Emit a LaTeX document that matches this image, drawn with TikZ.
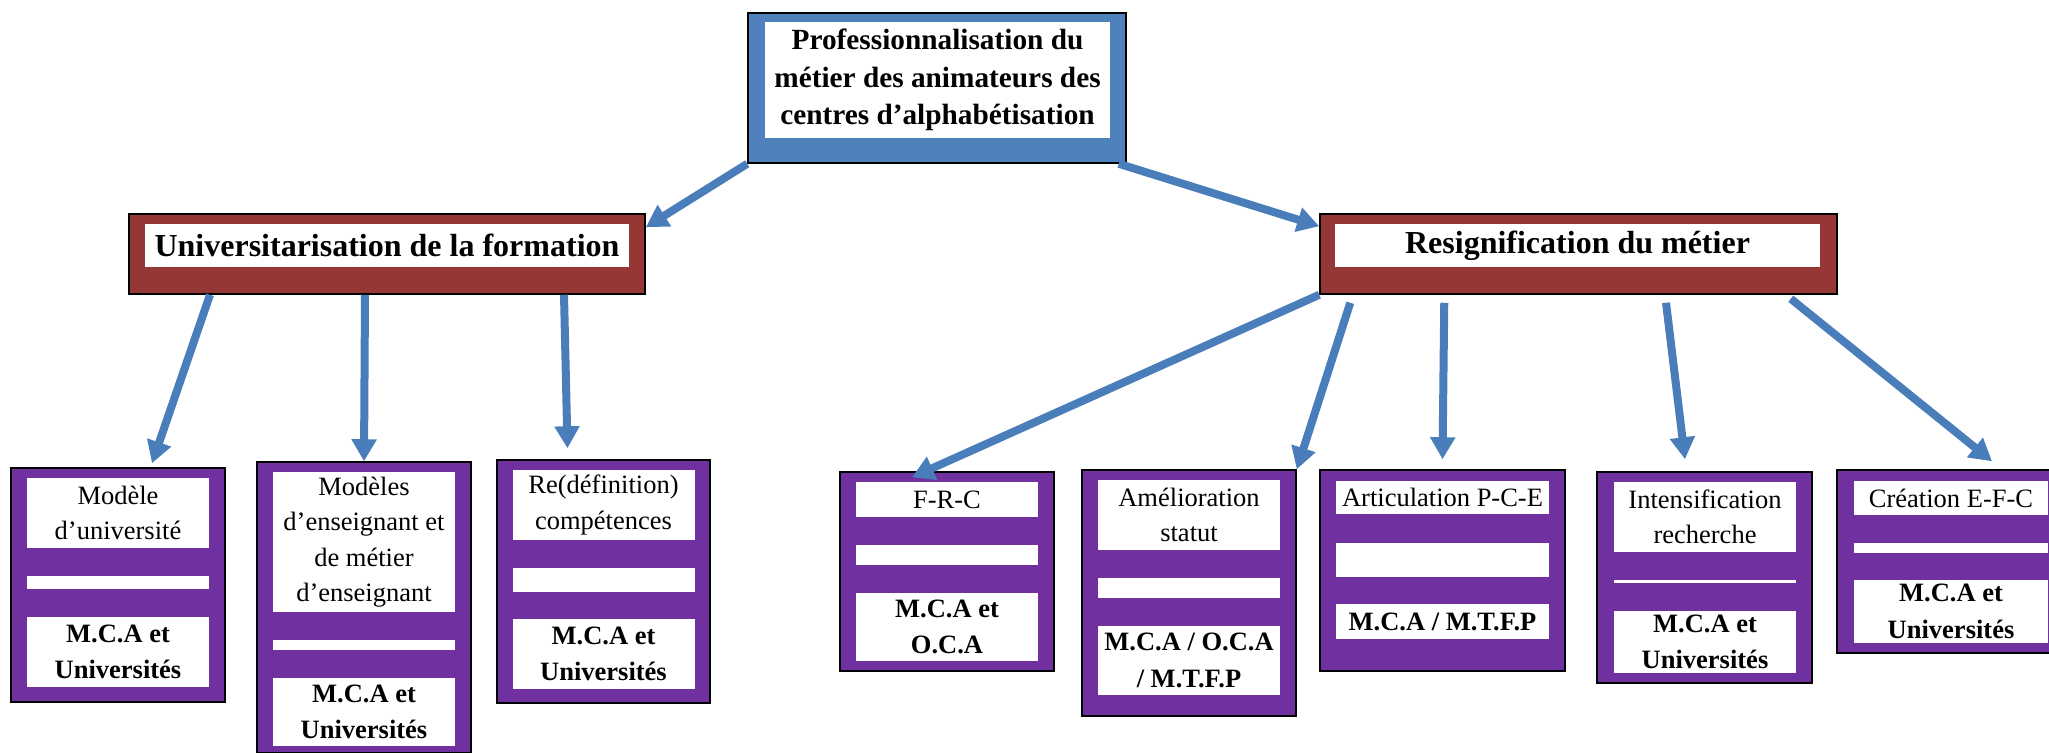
\documentclass[tikz,border=0pt]{standalone}
\usepackage{fontspec}
\setmainfont{Liberation Serif}
\usepackage{tikz}
\usetikzlibrary{arrows.meta}

\definecolor{bleuTete}{RGB}{79,129,189}
\definecolor{bleuFleche}{RGB}{74,126,187}
\definecolor{brique}{RGB}{149,55,53}
\definecolor{mauve}{RGB}{112,48,160}

\begin{document}
\begin{tikzpicture}[x=0.5pt,y=-0.5pt,
    boite/.style={draw=black,line width=0.75pt,inner sep=0pt},
    blanc/.style={fill=white,inner sep=0pt,align=center},
    niv1/.style={font=\bfseries\fontsize{14.65}{18.75}\selectfont},
    niv2/.style={font=\bfseries\fontsize{16}{19}\selectfont},
    txt/.style={font=\fontsize{13.25}{17.75}\selectfont},
    txtg/.style={font=\bfseries\fontsize{13.25}{18.25}\selectfont},
    fleche/.style={draw=bleuFleche,line width=4pt,-{Triangle[width=12pt,length=11pt]}}]
    \useasboundingbox (0,0) rectangle (2049,752);

    \node[boite,fill=bleuTete,minimum width=189pt,minimum height=75pt] (prof) at (937,88) {};
    \node[blanc,niv1,minimum width=172.5pt,minimum height=58pt] (profT) at (937.5,80)
    {Professionnalisation du\\métier des animateurs des\\centres d’alphabétisation};

    \node[boite,fill=brique,minimum width=258pt,minimum height=40pt] (univ) at (387,254) {};
    \node[blanc,niv2,minimum width=242pt,minimum height=21.5pt] (univT) at (387,245.5)
    {Universitarisation de la formation};
    \node[boite,fill=brique,minimum width=258.5pt,minimum height=40pt] (resign) at (1578.5,254) {};
    \node[blanc,niv2,minimum width=242.5pt,minimum height=21.5pt] (resignT) at (1577.5,245.5)
    {Resignification du métier};

    \node[boite,fill=mauve,minimum width=107pt,minimum height=117pt] (modele) at (118,585) {};
    \node[blanc,txt,minimum width=91pt,minimum height=35pt] (modele1) at (118,513) {Modèle\\d’université};
    \node[blanc,minimum width=91pt,minimum height=6.5pt] (modele2) at (118,582.5) {};
    \node[blanc,txtg,minimum width=91pt,minimum height=35pt] (modele3) at (118,652) {M.C.A et\\Universités};

    \node[boite,fill=mauve,minimum width=107pt,minimum height=145.5pt] (modeles) at (364,607.5) {};
    \node[blanc,txt,minimum width=91pt,minimum height=70pt] (modeles1) at (364,542)
    {Modèles\\d’enseignant et\\de métier\\d’enseignant};
    \node[blanc,minimum width=91pt,minimum height=5pt] (modeles2) at (364,645) {};
    \node[blanc,txtg,minimum width=91pt,minimum height=34pt] (modeles3) at (364,712) {M.C.A et\\Universités};

    \node[boite,fill=mauve,minimum width=106.5pt,minimum height=121.5pt] (redef) at (603.5,581.5) {};
    \node[blanc,txt,minimum width=91pt,minimum height=35pt] (redef1) at (603.5,505) {Re(définition)\\compétences};
    \node[blanc,minimum width=91pt,minimum height=12pt] (redef2) at (603.5,580) {};
    \node[blanc,txtg,minimum width=91pt,minimum height=35pt] (redef3) at (603.5,654) {M.C.A et\\Universités};

    \node[boite,fill=mauve,minimum width=107pt,minimum height=99.5pt] (frc) at (947,571.5) {};
    \node[blanc,txt,minimum width=91pt,minimum height=17.5pt] (frc1) at (947,499.5) {F-R-C};
    \node[blanc,minimum width=91pt,minimum height=10pt] (frc2) at (947,555) {};
    \node[blanc,txtg,minimum width=91pt,minimum height=34pt] (frc3) at (947,627) {M.C.A et\\O.C.A};

    \node[boite,fill=mauve,minimum width=107pt,minimum height=123pt] (amelio) at (1189,593) {};
    \node[blanc,txt,minimum width=91pt,minimum height=35pt] (amelio1) at (1189,515) {Amélioration\\statut};
    \node[blanc,minimum width=91pt,minimum height=10pt] (amelio2) at (1189,588) {};
    \node[blanc,txtg,minimum width=91pt,minimum height=34.5pt] (amelio3) at (1189,660.5) {M.C.A / O.C.A\\/ M.T.F.P};

    \node[boite,fill=mauve,minimum width=122.5pt,minimum height=100.5pt] (artic) at (1442.5,570.5) {};
    \node[blanc,txt,minimum width=106.5pt,minimum height=16.5pt] (artic1) at (1442.5,497.5) {Articulation P-C-E};
    \node[blanc,minimum width=106.5pt,minimum height=17pt] (artic2) at (1442.5,560) {};
    \node[blanc,txtg,minimum width=106.5pt,minimum height=17.5pt] (artic3) at (1442.5,621.5) {M.C.A / M.T.F.P};

    \node[boite,fill=mauve,minimum width=107.5pt,minimum height=105.5pt] (intens) at (1704.5,577.5) {};
    \node[blanc,txt,minimum width=91pt,minimum height=35pt] (intens1) at (1705,517) {Intensification\\recherche};
    \node[blanc,minimum width=91pt,minimum height=1.5pt] (intens2) at (1705,581.5) {};
    \node[blanc,txtg,minimum width=91pt,minimum height=31pt] (intens3) at (1705,642) {M.C.A et\\Universités};

    \node[boite,fill=mauve,minimum width=114pt,minimum height=91.5pt] (creation) at (1951,561.5) {};
    \node[blanc,txt,minimum width=97pt,minimum height=17pt] (creation1) at (1951,498) {Création E-F-C};
    \node[blanc,minimum width=97pt,minimum height=5pt] (creation2) at (1951,548) {};
    \node[blanc,txtg,minimum width=97pt,minimum height=31.5pt] (creation3) at (1951,611.5) {M.C.A et\\Universités};

    \draw[fleche] (prof.south west) -- ([yshift=-7pt]univ.north east);
    \draw[fleche] ([xshift=-4pt]prof.south east) -- ([yshift=-6.5pt]resign.north west);
    \draw[fleche] ([xshift=-88.5pt]univ.south) -- ([shift={(17pt,2pt)}]modele.north);
    \draw[fleche] ([xshift=-11pt]univ.south) -- (modeles.north);
    \draw[fleche] ([xshift=88.5pt]univ.south) -- ([shift={(-18pt,5.5pt)}]redef.north);
    \draw[fleche] (resign.south west) -- ([shift={(-17.5pt,-3pt)}]frc.north);
    \draw[fleche] ([shift={(15.5pt,-4pt)}]resign.south west) -- (amelio.north east);
    \draw[fleche] ([shift={(62.5pt,-4pt)}]resign.south west) -- ([yshift=5pt]artic.north);
    \draw[fleche] ([shift={(43.75pt,-4pt)}]resign.south) -- ([shift={(-9.75pt,6pt)}]intens.north);
    \draw[fleche] ([shift={(-23.5pt,-2pt)}]resign.south east) -- ([shift={(20.5pt,4pt)}]creation.north);
\end{tikzpicture}
\end{document}
